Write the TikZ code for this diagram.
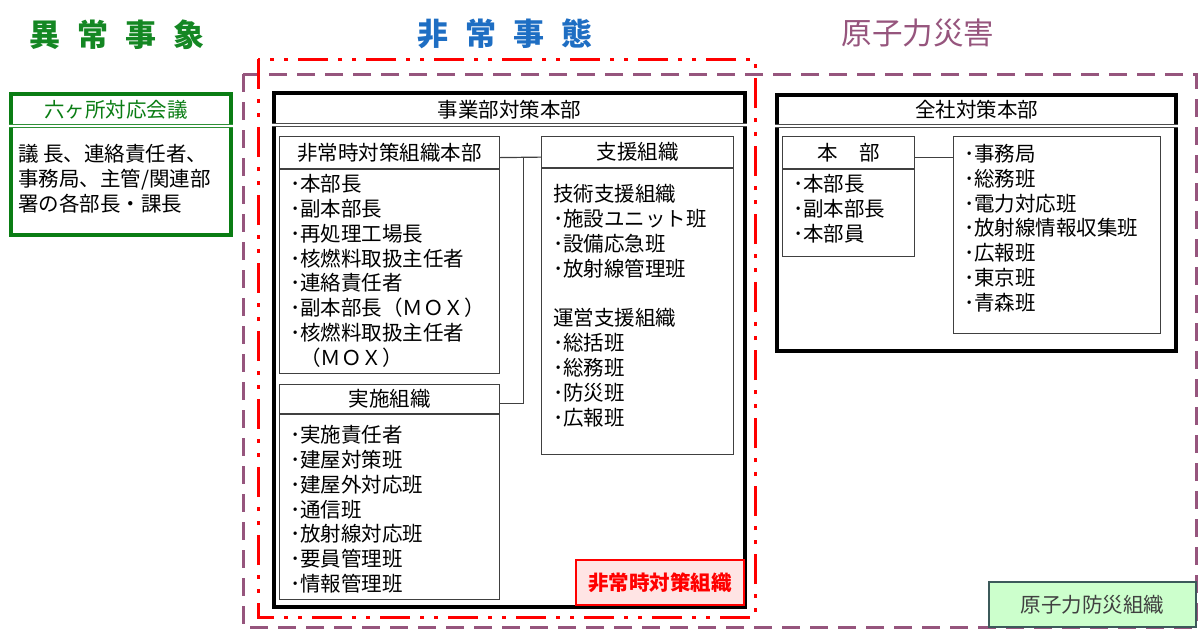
\documentclass[tikz,border=0pt]{standalone}
\usepackage{fontspec}
\setmainfont{Noto Sans CJK JP}
\usetikzlibrary{positioning, calc}

\definecolor{titlegreen}{RGB}{20,135,35}
\definecolor{boxgreen}{RGB}{10,125,20}
\definecolor{titleblue}{RGB}{30,110,195}
\definecolor{mauve}{RGB}{150,85,125}
\definecolor{labelpink}{RGB}{255,228,228}
\definecolor{labelgreen}{RGB}{204,255,204}
\definecolor{labeledge}{RGB}{60,90,90}

\begin{document}
\begin{tikzpicture}[
    x=1pt, y=-1pt,
    font=\fontsize{20.5}{24.8}\selectfont,
    phase/.style={
        inner sep=0pt,
        font=\fontsize{31}{31}\selectfont\bfseries
    },
    frame/.style={
        draw,
        line width=4pt,
        fill=white,
        anchor=north west,
        inner sep=0pt
    },
    headbox/.style={
        draw=black!75,
        line width=1.2pt,
        anchor=north west,
        inner sep=0pt
    },
    bodybox/.style={
        draw=black!75,
        line width=1.2pt,
        inner sep=0pt
    },
    items/.style={anchor=north west, align=left, inner sep=0pt},
    sepline/.style={double, double distance=2pt, line width=1pt, draw=black!70},
    link/.style={draw=black!75, line width=1.2pt},
    tag/.style={
        draw,
        line width=2pt,
        inner sep=0pt,
        minimum height=45pt,
        anchor=north west
    }
]

\useasboundingbox (0,0) rectangle (1200,630);

% Phase titles
\node[phase, text=titlegreen] (t-ijo) at (117,35) {異\hspace{17pt}常\hspace{17pt}事\hspace{17pt}象};
\node[phase, text=titleblue] (t-hijo) at (505,34) {非\hspace{17pt}常\hspace{17pt}事\hspace{17pt}態};
\node[phase, text=mauve, font=\fontsize{30.5}{30.5}\selectfont] (t-genshi) at (918,33) {原子力災害};

% Phase boundaries
\draw[mauve, line width=3pt, dash pattern=on 18pt off 10pt] (243,74) rectangle (1196,627);
\draw[red, line width=3pt, dash pattern=on 30pt off 10pt on 4pt off 10pt on 4pt off 10pt] (258,59) rectangle (755,617);

% Rokkasho meeting
\node[frame, draw=boxgreen, minimum width=220pt, minimum height=141pt] (rokka) at (9,92) {};
\node[text=boxgreen, inner sep=0pt] (rokka-head) at ($(rokka.north)+(-5,18)$) {六ヶ所対応会議};
\draw[sepline, draw=boxgreen!85] ($(rokka.north west)+(0,34)$) -- ($(rokka.north east)+(0,34)$);
\node[items] (rokka-body) at ($(rokka.north west)+(9,52)$) {%
    議 長、連絡責任者、\\
    事務局、主管/関連部\\
    署の各部長・課長
};

% Division headquarters
\node[frame, minimum width=471pt, minimum height=514pt] (jigyo) at (272,91) {};
\node[inner sep=0pt] (jigyo-head) at ($(jigyo.north)+(0,19)$) {事業部対策本部};
\draw[sepline] ($(jigyo.north west)+(0,34)$) -- ($(jigyo.north east)+(0,34)$);

% Emergency HQ
\node[headbox, minimum width=220pt, minimum height=32pt] (hq-head) at (279,136) {非常時対策組織本部};
\node[bodybox, below=0pt of hq-head, minimum width=220pt, minimum height=204pt] (hq) {};
\node[items] (hq-list) at ($(hq.north west)+(11,5)$) {%
    ･本部長\\
    ･副本部長\\
    ･再処理工場長\\
    ･核燃料取扱主任者\\
    ･連絡責任者\\
    ･副本部長（ＭＯＸ）\\
    ･核燃料取扱主任者\\
    \phantom{･}（ＭＯＸ）
};

% Implementation
\node[headbox, minimum width=220pt, minimum height=29pt] (jisshi-head) at (279,384) {実施組織};
\node[bodybox, below=0pt of jisshi-head, minimum width=220pt, minimum height=185pt] (jisshi) {};
\node[items] (jisshi-list) at ($(jisshi.north west)+(11,11)$) {%
    ･実施責任者\\
    ･建屋対策班\\
    ･建屋外対応班\\
    ･通信班\\
    ･放射線対応班\\
    ･要員管理班\\
    ･情報管理班
};

% Support
\node[headbox, minimum width=192pt, minimum height=31pt] (shien-head) at (541,136) {支援組織};
\node[bodybox, below=0pt of shien-head, minimum width=192pt, minimum height=286pt] (shien) {};
\node[items] (shien-list) at ($(shien.north west)+(12,16)$) {%
    技術支援組織\\
    ･施設ユニット班\\
    ･設備応急班\\
    ･放射線管理班\\[25pt]
    運営支援組織\\
    ･総括班\\
    ･総務班\\
    ･防災班\\
    ･広報班
};

% Links inside division HQ
\coordinate (hq-link) at ([yshift=-5pt]hq-head.east);
\coordinate (shien-link) at ([yshift=-5pt]shien-head.west);
\coordinate (bus) at ($(hq-link)!0.57!(shien-link)$);
\draw[link] (hq-link) -- (shien-link);
\draw[link] ([yshift=-4pt]jisshi-head.east) -| (bus);

% Company-wide headquarters
\node[frame, minimum width=399pt, minimum height=256pt] (zensha) at (775,93) {};
\node[inner sep=0pt] (zensha-head) at ($(zensha.north)+(0,17)$) {全社対策本部};
\draw[sepline] ($(zensha.north west)+(0,33)$) -- ($(zensha.north east)+(0,33)$);

\node[headbox, minimum width=132pt, minimum height=32pt] (honbu-head) at (782,136) {本\hspace{22pt}部};
\node[bodybox, below=0pt of honbu-head, minimum width=132pt, minimum height=87pt] (honbu) {};
\node[items] (honbu-list) at ($(honbu.north west)+(11,5)$) {%
    ･本部長\\
    ･副本部長\\
    ･本部員
};

\node[headbox, minimum width=207pt, minimum height=197pt] (han) at (953,136) {};
\node[items] (han-list) at ($(han.north west)+(11,8)$) {%
    ･事務局\\
    ･総務班\\
    ･電力対応班\\
    ･放射線情報収集班\\
    ･広報班\\
    ･東京班\\
    ･青森班
};

\coordinate (honbu-link) at ([yshift=-5pt]honbu-head.east);
\draw[link] (honbu-link) -- (honbu-link -| han.west);

% Organisation tags
\node[tag, draw=red, fill=labelpink, text=red, minimum width=168pt,
      font=\fontsize{20.5}{20.5}\selectfont\bfseries] (tag-hijo) at (575,559) {非常時対策組織};
\node[tag, draw=labeledge, fill=labelgreen, text=black!75, minimum width=207pt] (tag-genshi) at (988,581) {原子力防災組織};

\end{tikzpicture}
\end{document}
